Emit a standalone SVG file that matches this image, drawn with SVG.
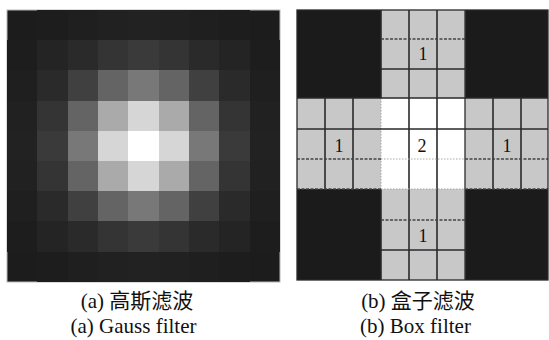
<svg xmlns="http://www.w3.org/2000/svg" width="549" height="340" viewBox="0 0 549 340">
<style>
.cap{font-family:"Liberation Serif","Noto Sans CJK SC",serif;font-size:21px;fill:#111;text-anchor:middle}
.num{font-family:"Liberation Serif",serif;font-size:18px;fill:#111;text-anchor:middle}
.sol{stroke:#2a2a2a;stroke-width:1.6;fill:none}
.das{stroke:#444;stroke-width:1.3;stroke-dasharray:3 1.5;fill:none}
.dot{stroke:#a8a8a8;stroke-width:1;stroke-dasharray:1.5 1.5;fill:none}
</style>
<rect x="0" y="0" width="549" height="340" fill="#ffffff"/>
<g id="gauss">
<rect x="7" y="10" width="273" height="272" fill="#1c1c1c" stroke="#b8b8b8" stroke-width="1"/>
<g shape-rendering="crispEdges">
<!-- row 0 -->
<rect x="37.3" y="10" width="30.4" height="30.3" fill="#1d1d1d"/>
<rect x="67.7" y="10" width="30.4" height="30.3" fill="#1f1f1f"/>
<rect x="98" y="10" width="30.4" height="30.3" fill="#212121"/>
<rect x="128.3" y="10" width="30.4" height="30.3" fill="#222222"/>
<rect x="158.7" y="10" width="30.4" height="30.3" fill="#212121"/>
<rect x="189" y="10" width="30.4" height="30.3" fill="#1f1f1f"/>
<rect x="219.3" y="10" width="30.4" height="30.3" fill="#1d1d1d"/>
<!-- row 1 -->
<rect x="7" y="40.2" width="30.4" height="30.3" fill="#1d1d1d"/>
<rect x="37.3" y="40.2" width="30.4" height="30.3" fill="#242424"/>
<rect x="67.7" y="40.2" width="30.4" height="30.3" fill="#2a2a2a"/>
<rect x="98" y="40.2" width="30.4" height="30.3" fill="#343434"/>
<rect x="128.3" y="40.2" width="30.4" height="30.3" fill="#3a3a3a"/>
<rect x="158.7" y="40.2" width="30.4" height="30.3" fill="#343434"/>
<rect x="189" y="40.2" width="30.4" height="30.3" fill="#2a2a2a"/>
<rect x="219.3" y="40.2" width="30.4" height="30.3" fill="#242424"/>
<rect x="249.7" y="40.2" width="30.3" height="30.3" fill="#1d1d1d"/>
<!-- row 2 -->
<rect x="7" y="70.4" width="30.4" height="30.3" fill="#1f1f1f"/>
<rect x="37.3" y="70.4" width="30.4" height="30.3" fill="#2a2a2a"/>
<rect x="67.7" y="70.4" width="30.4" height="30.3" fill="#404040"/>
<rect x="98" y="70.4" width="30.4" height="30.3" fill="#646464"/>
<rect x="128.3" y="70.4" width="30.4" height="30.3" fill="#787878"/>
<rect x="158.7" y="70.4" width="30.4" height="30.3" fill="#646464"/>
<rect x="189" y="70.4" width="30.4" height="30.3" fill="#404040"/>
<rect x="219.3" y="70.4" width="30.4" height="30.3" fill="#2a2a2a"/>
<rect x="249.7" y="70.4" width="30.3" height="30.3" fill="#1f1f1f"/>
<!-- row 3 -->
<rect x="7" y="100.6" width="30.4" height="30.3" fill="#212121"/>
<rect x="37.3" y="100.6" width="30.4" height="30.3" fill="#343434"/>
<rect x="67.7" y="100.6" width="30.4" height="30.3" fill="#646464"/>
<rect x="98" y="100.6" width="30.4" height="30.3" fill="#aaaaaa"/>
<rect x="128.3" y="100.6" width="30.4" height="30.3" fill="#d6d6d6"/>
<rect x="158.7" y="100.6" width="30.4" height="30.3" fill="#aaaaaa"/>
<rect x="189" y="100.6" width="30.4" height="30.3" fill="#646464"/>
<rect x="219.3" y="100.6" width="30.4" height="30.3" fill="#343434"/>
<rect x="249.7" y="100.6" width="30.3" height="30.3" fill="#212121"/>
<!-- row 4 -->
<rect x="7" y="130.8" width="30.4" height="30.3" fill="#222222"/>
<rect x="37.3" y="130.8" width="30.4" height="30.3" fill="#3a3a3a"/>
<rect x="67.7" y="130.8" width="30.4" height="30.3" fill="#787878"/>
<rect x="98" y="130.8" width="30.4" height="30.3" fill="#d6d6d6"/>
<rect x="128.3" y="130.8" width="30.4" height="30.3" fill="#ffffff"/>
<rect x="158.7" y="130.8" width="30.4" height="30.3" fill="#d6d6d6"/>
<rect x="189" y="130.8" width="30.4" height="30.3" fill="#787878"/>
<rect x="219.3" y="130.8" width="30.4" height="30.3" fill="#3a3a3a"/>
<rect x="249.7" y="130.8" width="30.3" height="30.3" fill="#222222"/>
<!-- row 5 -->
<rect x="7" y="161" width="30.4" height="30.3" fill="#212121"/>
<rect x="37.3" y="161" width="30.4" height="30.3" fill="#343434"/>
<rect x="67.7" y="161" width="30.4" height="30.3" fill="#646464"/>
<rect x="98" y="161" width="30.4" height="30.3" fill="#aaaaaa"/>
<rect x="128.3" y="161" width="30.4" height="30.3" fill="#d6d6d6"/>
<rect x="158.7" y="161" width="30.4" height="30.3" fill="#aaaaaa"/>
<rect x="189" y="161" width="30.4" height="30.3" fill="#646464"/>
<rect x="219.3" y="161" width="30.4" height="30.3" fill="#343434"/>
<rect x="249.7" y="161" width="30.3" height="30.3" fill="#212121"/>
<!-- row 6 -->
<rect x="7" y="191.2" width="30.4" height="30.3" fill="#1f1f1f"/>
<rect x="37.3" y="191.2" width="30.4" height="30.3" fill="#2a2a2a"/>
<rect x="67.7" y="191.2" width="30.4" height="30.3" fill="#404040"/>
<rect x="98" y="191.2" width="30.4" height="30.3" fill="#646464"/>
<rect x="128.3" y="191.2" width="30.4" height="30.3" fill="#787878"/>
<rect x="158.7" y="191.2" width="30.4" height="30.3" fill="#646464"/>
<rect x="189" y="191.2" width="30.4" height="30.3" fill="#404040"/>
<rect x="219.3" y="191.2" width="30.4" height="30.3" fill="#2a2a2a"/>
<rect x="249.7" y="191.2" width="30.3" height="30.3" fill="#1f1f1f"/>
<!-- row 7 -->
<rect x="7" y="221.4" width="30.4" height="30.3" fill="#1d1d1d"/>
<rect x="37.3" y="221.4" width="30.4" height="30.3" fill="#242424"/>
<rect x="67.7" y="221.4" width="30.4" height="30.3" fill="#2a2a2a"/>
<rect x="98" y="221.4" width="30.4" height="30.3" fill="#343434"/>
<rect x="128.3" y="221.4" width="30.4" height="30.3" fill="#3a3a3a"/>
<rect x="158.7" y="221.4" width="30.4" height="30.3" fill="#343434"/>
<rect x="189" y="221.4" width="30.4" height="30.3" fill="#2a2a2a"/>
<rect x="219.3" y="221.4" width="30.4" height="30.3" fill="#242424"/>
<rect x="249.7" y="221.4" width="30.3" height="30.3" fill="#1d1d1d"/>
<!-- row 8 -->
<rect x="37.3" y="251.6" width="30.4" height="30.4" fill="#1d1d1d"/>
<rect x="67.7" y="251.6" width="30.4" height="30.4" fill="#1f1f1f"/>
<rect x="98" y="251.6" width="30.4" height="30.4" fill="#212121"/>
<rect x="128.3" y="251.6" width="30.4" height="30.4" fill="#222222"/>
<rect x="158.7" y="251.6" width="30.4" height="30.4" fill="#212121"/>
<rect x="189" y="251.6" width="30.4" height="30.4" fill="#1f1f1f"/>
<rect x="219.3" y="251.6" width="30.4" height="30.4" fill="#1d1d1d"/>
</g>
</g>
<g id="box">
<rect x="297" y="10" width="251" height="270" fill="#c8c8c8"/>
<rect x="297" y="10" width="84" height="88" fill="#1b1b1b"/>
<rect x="465" y="10" width="83" height="88" fill="#1b1b1b"/>
<rect x="297" y="189" width="84" height="91" fill="#1b1b1b"/>
<rect x="465" y="189" width="83" height="91" fill="#1b1b1b"/>
<rect x="381" y="98" width="84" height="91" fill="#ffffff"/>
<g id="box-lines">
<line class="sol" x1="409" y1="10" x2="409" y2="280"/>
<line class="sol" x1="437" y1="10" x2="437" y2="280"/>
<line class="sol" x1="325" y1="98" x2="325" y2="189"/>
<line class="sol" x1="353" y1="98" x2="353" y2="189"/>
<line class="sol" x1="493" y1="98" x2="493" y2="189"/>
<line class="sol" x1="521" y1="98" x2="521" y2="189"/>
<line class="sol" x1="381" y1="10" x2="381" y2="98"/>
<line class="sol" x1="381" y1="189" x2="381" y2="280"/>
<line class="dot" x1="381" y1="98" x2="381" y2="189"/>
<line stroke="#3a3a3a" stroke-width="1.4" x1="465" y1="10" x2="465" y2="280"/>
<line class="sol" x1="297" y1="98" x2="548" y2="98"/>
<line class="sol" x1="297" y1="129" x2="548" y2="129"/>
<line class="das" x1="297" y1="159" x2="381" y2="159"/>
<line class="dot" x1="381" y1="159" x2="465" y2="159"/>
<line class="das" x1="465" y1="159" x2="548" y2="159"/>
<line class="das" x1="297" y1="189" x2="381" y2="189"/>
<line class="dot" x1="381" y1="189" x2="465" y2="189"/>
<line class="das" x1="465" y1="189" x2="548" y2="189"/>
<line class="das" x1="381" y1="39" x2="465" y2="39"/>
<line class="sol" x1="381" y1="69" x2="465" y2="69"/>
<line class="das" x1="381" y1="220" x2="465" y2="220"/>
<line class="sol" x1="381" y1="250" x2="465" y2="250"/>
<rect x="297" y="10" width="251" height="270" fill="none" stroke="#2a2a2a" stroke-width="1.3"/>
</g>
<text class="num" x="423" y="60">1</text>
<text class="num" x="339" y="151.5">1</text>
<text class="num" x="422" y="151.5">2</text>
<text class="num" x="507" y="151.5">1</text>
<text class="num" x="423" y="241.5">1</text>
</g>
<g id="captions">
<text class="cap" x="137" y="307.5">(a) 高斯滤波</text>
<text class="cap" x="133.5" y="332.5">(a) Gauss filter</text>
<text class="cap" x="418" y="307.5">(b) 盒子滤波</text>
<text class="cap" x="415.5" y="332.5">(b) Box filter</text>
</g>
</svg>
